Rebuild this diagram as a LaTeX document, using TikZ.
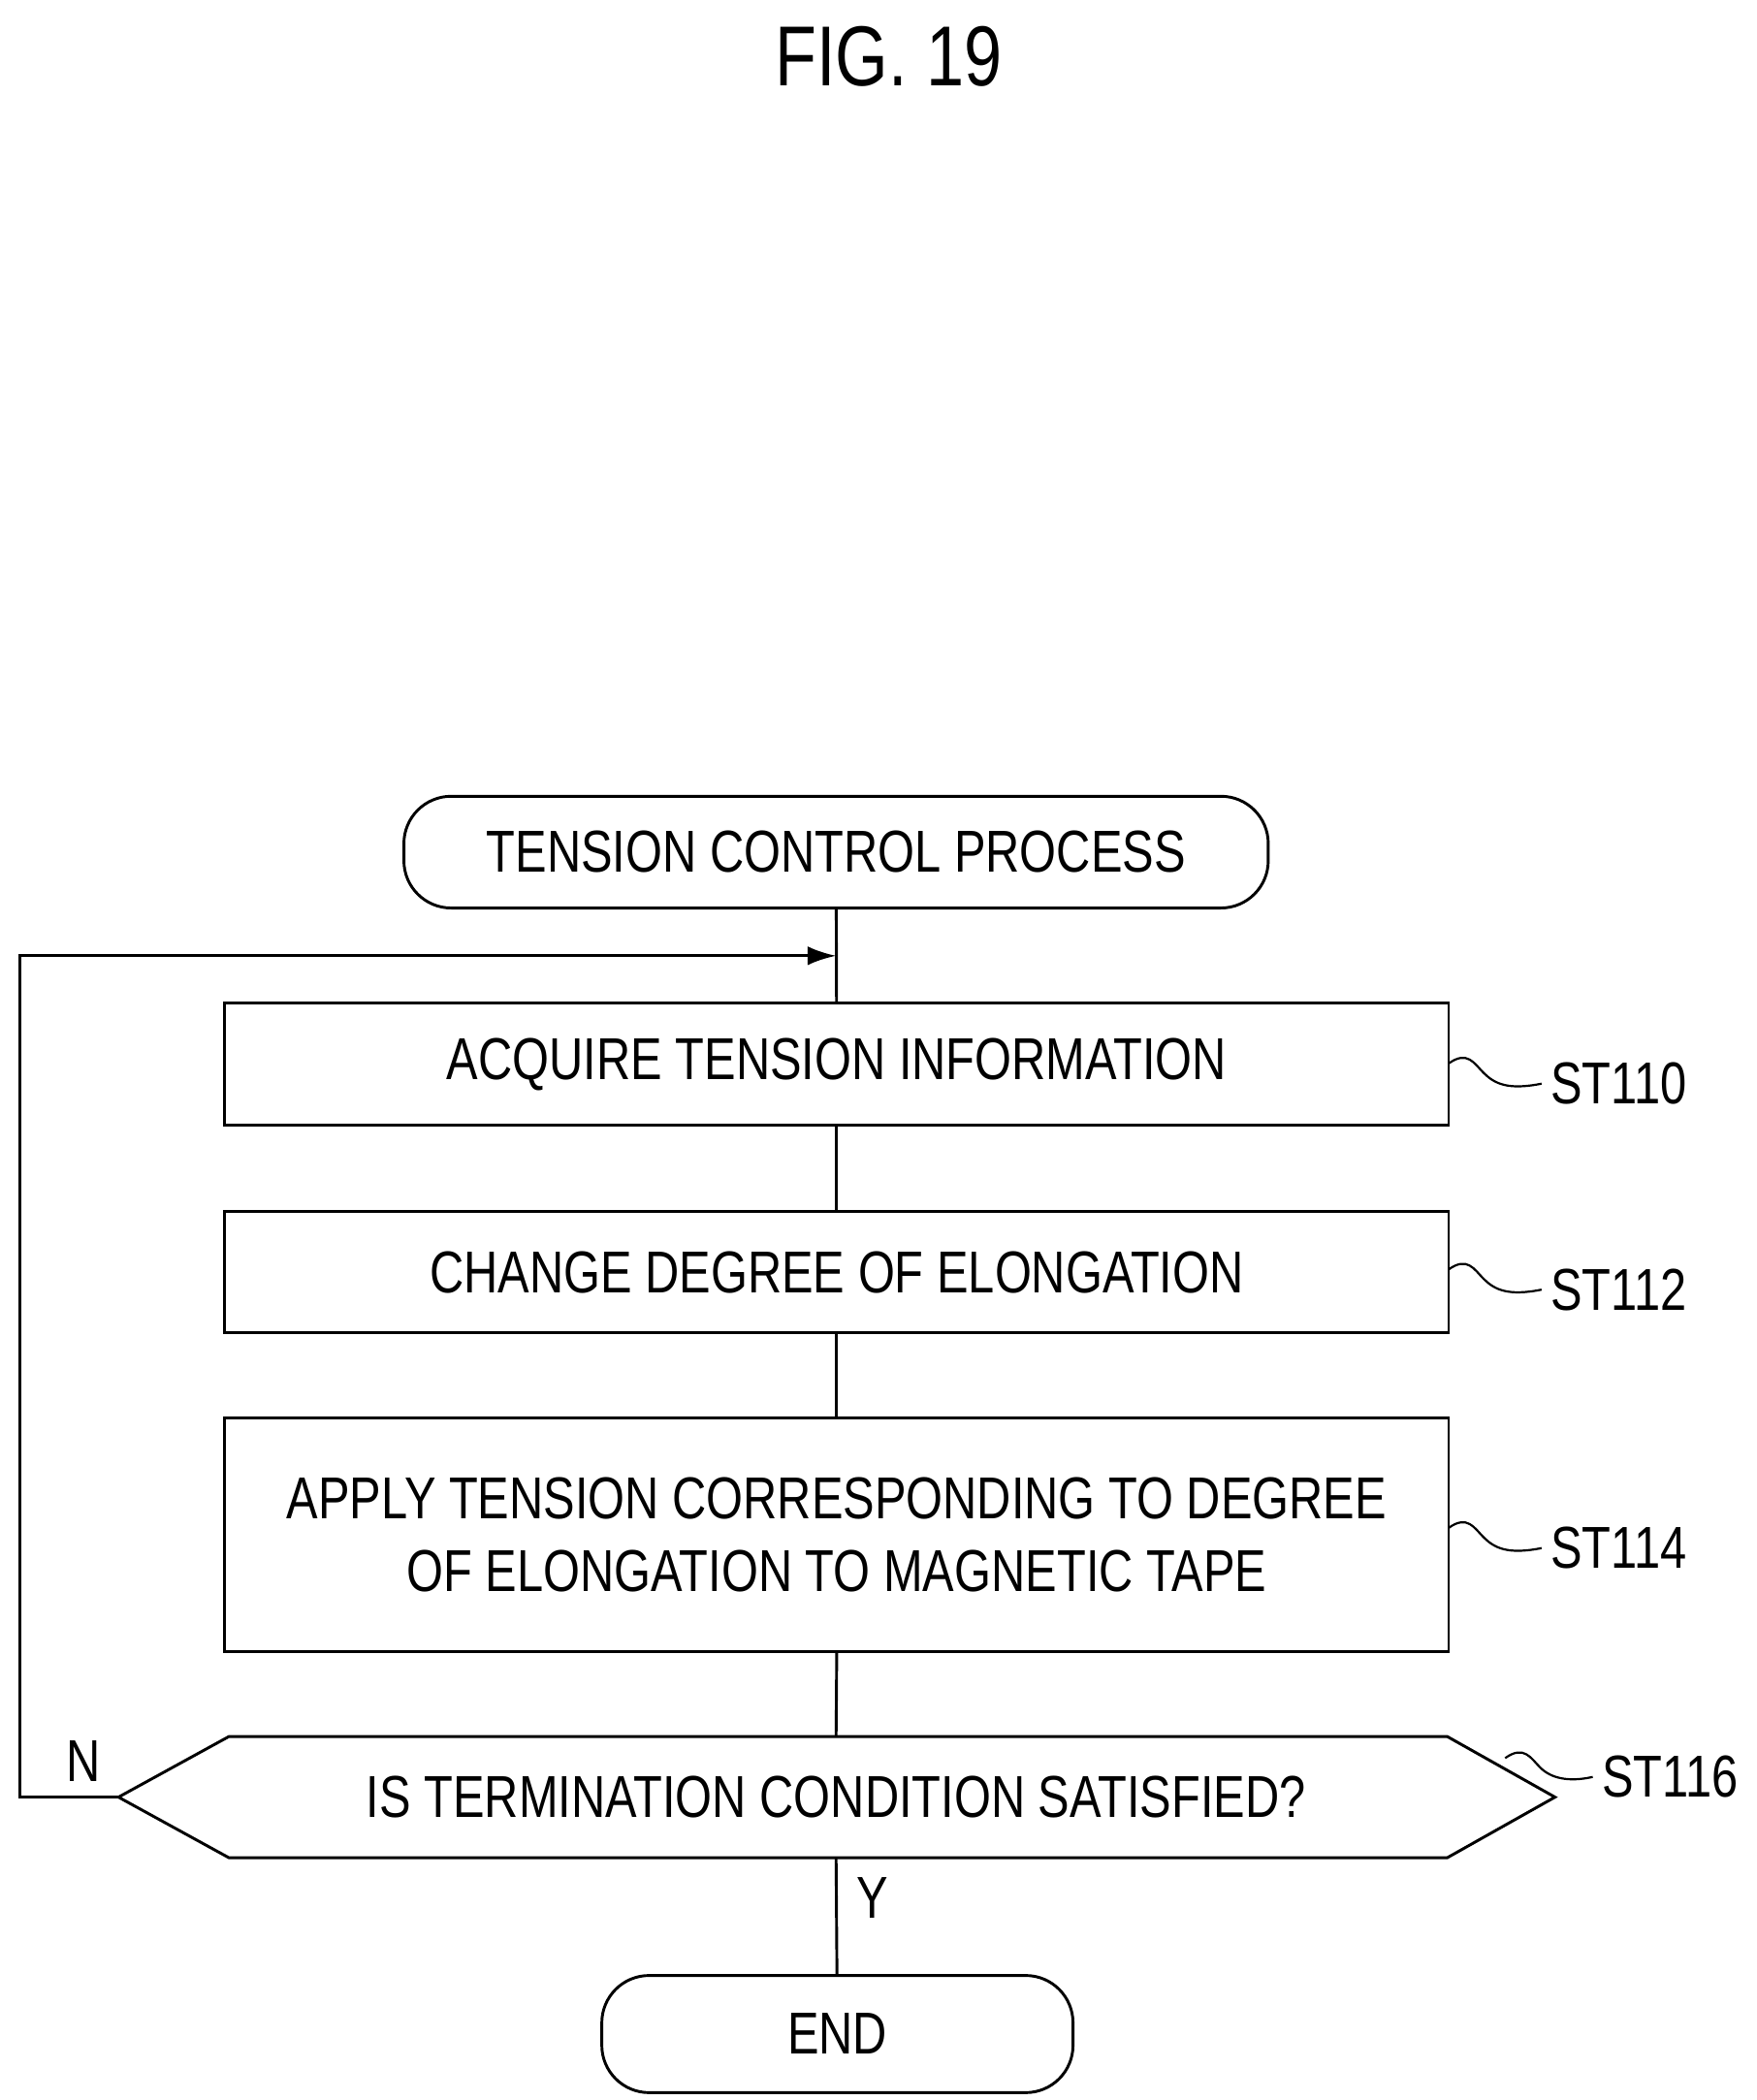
\documentclass[tikz,border=0pt]{standalone}
\usepackage{fontspec}
\setmainfont[FakeStretch=0.8]{Liberation Sans}
\usetikzlibrary{arrows.meta}
\begin{document}
\begin{tikzpicture}[x=0.02cm,y=-0.02cm,line width=1.2pt,
  txt/.style={font=\fontsize{25}{31}\selectfont,align=center},
  lab/.style={font=\fontsize{25}{31}\selectfont,anchor=west},
  box/.style={draw,minimum width=909*0.02cm}]
\useasboundingbox (0,0) rectangle (1305,1560);
\node[font=\fontsize{36}{40}\selectfont] (title) at (660,42) {FIG. 19};
\node[draw,rounded corners=20pt,minimum width=642*0.02cm,minimum height=83*0.02cm,txt] (start) at (621,633) {TENSION CONTROL PROCESS};
\node[box,minimum height=91*0.02cm,txt] (s110) at (621.5,790.5) {ACQUIRE TENSION INFORMATION};
\node[box,minimum height=90*0.02cm,txt] (s112) at (621.5,945) {CHANGE DEGREE OF ELONGATION};
\node[box,minimum height=174*0.02cm,txt] (s114) at (621.5,1140) {APPLY TENSION CORRESPONDING TO DEGREE\\OF ELONGATION TO MAGNETIC TAPE};
\coordinate (dl) at (88,1335); \coordinate (dr) at (1155,1335);
\coordinate (dt) at (621,1290); \coordinate (db) at (621,1380);
\draw (dl) -- (170,1290) -- (1075,1290) -- (dr) -- (1075,1380) -- (170,1380) -- cycle;
\node[txt] (s116) at (621,1335) {IS TERMINATION CONDITION SATISFIED?};
\node[draw,rounded corners=20pt,minimum width=350*0.02cm,minimum height=87*0.02cm,txt] (end) at (622,1511) {END};
\coordinate (j) at (621,710);
\draw (start) -- (s110);
\draw (s110) -- (s112);
\draw (s112) -- (s114);
\draw (s114.south) -- (dt);
\draw (db) -- (end);
\draw[-{Latex[length=12pt,width=8pt]}] (dl) -- (15,1335) -- (15,710) -- (j);
\node[font=\fontsize{25}{31}\selectfont] (n) at (62,1308) {N};
\node[font=\fontsize{25}{31}\selectfont] (y) at (648,1410) {Y};
\foreach \n/\y/\t in {a/805/ST110,b/958/ST112,c/1150/ST114}{
  \node[lab] (l\n) at (1145,\y) {\t};
  \draw[line width=0.9pt] (1076,\y-15) .. controls (1090,\y-25) and (1095,\y-15) .. (1102,\y-8)
    .. controls (1110,\y) and (1120,\y+5) .. (l\n.west);
}
\node[lab] (ld) at (1183,1320) {ST116};
\draw[line width=0.9pt] (1118,1306) .. controls (1132,1296) and (1137,1306) .. (1144,1313)
  .. controls (1152,1321) and (1165,1324) .. (ld.west);
\end{tikzpicture}
\end{document}
